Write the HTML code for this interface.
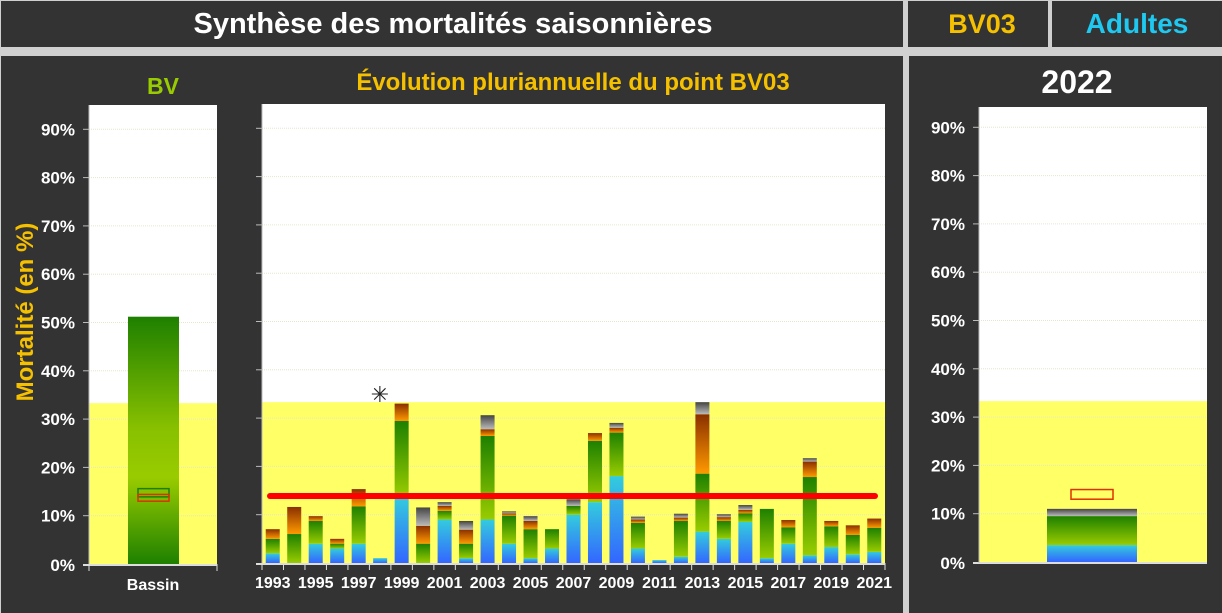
<!DOCTYPE html>
<html><head><meta charset="utf-8"><style>
html,body{margin:0;padding:0;background:#d0d0d0;width:1222px;height:613px;overflow:hidden}
svg{display:block}
text{font-family:"Liberation Sans",Arial,sans-serif;font-weight:bold}
</style></head><body>
<svg id="s" width="1222" height="613" xmlns="http://www.w3.org/2000/svg">
<defs>
<linearGradient id="gb" x1="0" y1="1" x2="0" y2="0"><stop offset="0" stop-color="#3366ff"/><stop offset="1" stop-color="#33ccdd"/></linearGradient>
<linearGradient id="gg" x1="0" y1="1" x2="0" y2="0"><stop offset="0" stop-color="#99cc00"/><stop offset="1" stop-color="#1e8000"/></linearGradient>
<linearGradient id="go" x1="0" y1="1" x2="0" y2="0"><stop offset="0" stop-color="#ff9900"/><stop offset="1" stop-color="#8a3000"/></linearGradient>
<linearGradient id="gy" x1="0" y1="1" x2="0" y2="0"><stop offset="0" stop-color="#bbbbbb"/><stop offset="1" stop-color="#444444"/></linearGradient>
<linearGradient id="gbv" x1="0" y1="1" x2="0" y2="0"><stop offset="0" stop-color="#1e8000"/><stop offset="0.35" stop-color="#99cc00"/><stop offset="0.55" stop-color="#88c000"/><stop offset="1" stop-color="#1e8000"/></linearGradient>
</defs>
<rect x="1" y="1" width="902" height="46" fill="#333"/>
<rect x="908" y="1" width="140" height="46" fill="#333"/>
<rect x="1052" y="1" width="170" height="46" fill="#333"/>
<rect x="1" y="56" width="902" height="557" fill="#333"/>
<rect x="909" y="56" width="313" height="557" fill="#333"/>
<text x="453" y="33" fill="#fff" font-size="29" text-anchor="middle">Synthèse des mortalités saisonnières</text>
<text x="982" y="33" fill="#f5c000" font-size="27" text-anchor="middle">BV03</text>
<text x="1137" y="33" fill="#1ec8f0" font-size="28" text-anchor="middle">Adultes</text>
<text x="163" y="94" fill="#99cc00" font-size="23" text-anchor="middle">BV</text>
<text x="573" y="90" fill="#f5c000" font-size="24" text-anchor="middle">Évolution pluriannuelle du point BV03</text>
<text x="1077" y="93" fill="#fff" font-size="32" text-anchor="middle">2022</text>
<text transform="translate(33,312) rotate(-90)" fill="#f5c000" font-size="24" text-anchor="middle">Mortalité (en %)</text>
<g id="g"></g>
</svg>
<script>
var g=document.getElementById('g'),h='';
function R(x,y,w,hh,f,extra){h+='<rect x="'+x+'" y="'+y+'" width="'+w+'" height="'+hh+'" fill="'+f+'" '+(extra||'')+'/>';}
function T(x,y,t,a,fs){h+='<text x="'+x+'" y="'+y+'" fill="#fff" font-size="'+(fs||17)+'" text-anchor="'+(a||'end')+'">'+t+'</text>';}
function plot(x0,x1,top,y0,labels){
  var k=4.83,y33=y0-33.3*k;
  R(x0,top,x1-x0,y0-top,'#fff');
  R(x0,y33,x1-x0,y0-y33,'#ffff66');
  for(var i=1;i<=9;i++){var y=y0-i*k*10;h+='<line x1="'+x0+'" x2="'+x1+'" y1="'+y+'" y2="'+y+'" stroke="#e6e6cc" stroke-width="1" stroke-dasharray="1,1"/>';
    h+='<line x1="'+(x0-6)+'" x2="'+x0+'" y1="'+y+'" y2="'+y+'" stroke="#bbb"/>';
    if(labels)T(x0-14,y+6,i*10+'%');}
  h+='<line x1="'+(x0-6)+'" x2="'+x1+'" y1="'+(y0+1)+'" y2="'+(y0+1)+'" stroke="#ddd" stroke-width="2"/>';
  h+='<line x1="'+x0+'" x2="'+x0+'" y1="'+top+'" y2="'+(y0+1)+'" stroke="#bbb"/>';
  if(labels)T(x0-14,y0+7,'0%');
  return function(v){return y0-v*k;};
}
function bar(Y,x,w,segs){var prev=0;var fills=['url(#gb)','url(#gg)','url(#go)','url(#gy)'];
  for(var i=0;i<segs.length;i++){var v=segs[i];if(v==null||v<=prev)continue;R(x,Y(v),w,Y(prev)-Y(v),fills[i]);prev=v;}}
var YL=plot(89,217,105,564,true);
R(128,YL(51.2),51,YL(0)-YL(51.2),'url(#gbv)');
R(138,YL(15.6),31,YL(13.9)-YL(15.6),'none','stroke="#1e8000" stroke-width="1.5"');
R(138,YL(14.4),31,YL(13)-YL(14.4),'none','stroke="#e03000" stroke-width="1.5"');
h+='<line x1="89" x2="89" y1="564" y2="571" stroke="#ddd"/><line x1="217" x2="217" y1="564" y2="571" stroke="#ddd"/>';
T(153,590,'Bassin','middle',16);
var YM=plot(262,885,104,563,false);
var d=[[2,5,7],[0,6,11.6],[4,8.7,9.7],[3,4,5],[4,11.7,15.3],[1],[13.7,29.4,33],[0,4,7.7,11.5],[9,10.8,11.8,12.6],[1,4,6.9,8.7],[9,26.3,27.7,30.6],[4,9.8,10.3,10.7],[1,7,8.7,9.7],[3,7],[10,11.8,null,13.2],[12.6,25.3,26.9],[18,27,28,29],[3,8.3,9,9.6],[0.6],[1.3,8.7,9.4,10.2],[6.5,18.5,30.8,33.3],[5,8.7,9.5,10.1],[8.5,10.3,11,12],[1,11.2],[4,7.4,8.9],[1.6,17.8,21,21.7],[3.3,7.6,8.7],[1.8,5.8,7.8],[2.3,7.3,9.2]];
var sp=623/29;
for(var i=0;i<29;i++){var c=262+sp*(i+0.5);bar(YM,c-7,14,d[i]);
  h+='<line x1="'+(262+sp*i)+'" x2="'+(262+sp*i)+'" y1="563" y2="570" stroke="#ddd"/>';
  if(i%2==0)T(c,588,1993+i,'middle',16);}
h+='<line x1="885" x2="885" y1="563" y2="570" stroke="#ddd"/>';
h+='<line x1="270" x2="875" y1="496" y2="496" stroke="#ff0000" stroke-width="6" stroke-linecap="round"/>';
h+='<text x="380" y="402" fill="#222" font-size="22" font-weight="normal" text-anchor="middle" style="font-family:DejaVu Sans,sans-serif">✳</text>';
var YR=plot(979,1207,107,562,true);
bar(YR,1047,90,[3.5,9.5,null,11]);
R(1071,YR(15),42,YR(13)-YR(15),'none','stroke="#e03000" stroke-width="1.5"');
g.innerHTML=h;
</script>
</body></html>
